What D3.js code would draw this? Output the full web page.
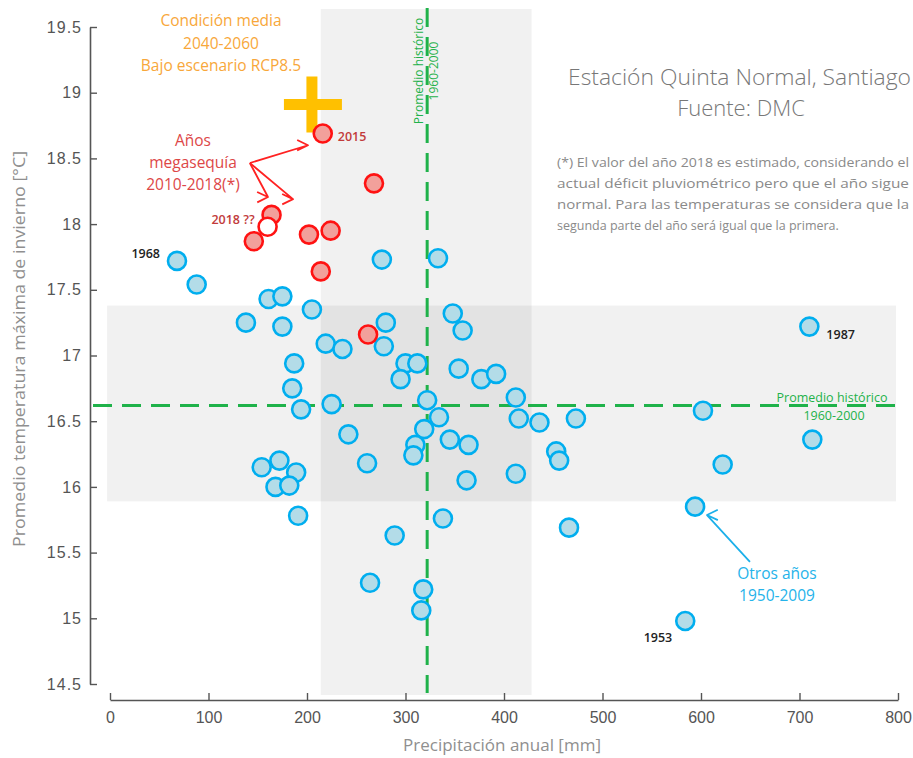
<!DOCTYPE html>
<html>
<head>
<meta charset="utf-8">
<script src="https://cdn.jsdelivr.net/npm/d3@7"></script>
<style>
  body { margin: 0; background: #fff; }
  svg { display: block; }
</style>
</head>
<body>
<div id="chart"></div>
<script>
// otros años 1950-2009: precipitación anual [mm] y temp. máx. invierno [°C]
var rainOther = [68, 88, 161, 175, 205, 138, 175, 276, 333, 280,
                 219, 236, 278, 300, 312, 295, 187, 185, 194, 225,
                 322, 334, 319, 345, 310, 308, 242, 261, 154, 172,
                 189, 168, 182, 191, 338, 348, 358, 354, 377, 392,
                 412, 415, 436, 473, 602, 710, 713, 622, 364, 453,
                 456, 362, 412, 594, 466, 584, 289, 264, 318, 316];
var tempOther = [17.72, 17.54, 17.43, 17.45, 17.35, 17.25, 17.22, 17.73, 17.74, 17.25,
                 17.09, 17.05, 17.07, 16.94, 16.94, 16.82, 16.94, 16.75, 16.59, 16.63,
                 16.66, 16.53, 16.44, 16.36, 16.32, 16.24, 16.40, 16.18, 16.15, 16.20,
                 16.11, 16.00, 16.01, 15.78, 15.76, 17.32, 17.19, 16.90, 16.82, 16.86,
                 16.68, 16.52, 16.49, 16.52, 16.58, 17.22, 16.36, 16.17, 16.32, 16.27,
                 16.20, 16.05, 16.10, 15.85, 15.69, 14.98, 15.63, 15.27, 15.22, 15.06];
var yearOther = {0: "1968", 45: "1987", 55: "1953"};

// megasequía 2010-2018 (el último es 2018, estimado)
var rainDrought = [216, 268, 164, 146, 202, 224, 214, 262, 160];
var tempDrought = [18.69, 18.31, 18.07, 17.87, 17.92, 17.95, 17.64, 17.16, 17.98];
var yearDrought = {0: "2015", 8: "2018 ??"};

// condición media 2040-2060 RCP8.5
var rainFuture = [205];
var tempFuture = [18.91];

// promedio histórico 1960-2000 y su banda
var rainMean = 322, rainBand = [214, 428];
var tempMean = 16.62, tempBand = [15.89, 17.38];

var xTicks = [0, 100, 200, 300, 400, 500, 600, 700, 800];
var yTicks = [14.5, 15, 15.5, 16, 16.5, 17, 17.5, 18, 18.5, 19, 19.5];

var W = 913, H = 758;
var svg = d3.select("#chart").append("svg").attr("width", W).attr("height", H);

var x = d3.scaleLinear().domain([0, 800]).range([110, 898]);
var y = d3.scaleLinear().domain([14.5, 19.5]).range([684, 27]);

var green = "#1fb24a", grey = "#8f8f8f";
var label = "'Open Sans', sans-serif";

//--- bandas grises
svg.append("rect")
  .attr("x", x(rainBand[0])).attr("width", x(rainBand[1]) - x(rainBand[0]))
  .attr("y", 9).attr("height", 695 - 9)
  .attr("fill", "#000").attr("fill-opacity", 0.055);
svg.append("rect")
  .attr("x", x(-3)).attr("width", x(798) - x(-3))
  .attr("y", y(tempBand[1])).attr("height", y(tempBand[0]) - y(tempBand[1]))
  .attr("fill", "#000").attr("fill-opacity", 0.055);

//--- promedio histórico
svg.append("line")
  .attr("x1", x(rainMean)).attr("x2", x(rainMean)).attr("y1", 8).attr("y2", 693)
  .attr("stroke", green).attr("stroke-width", 3).attr("stroke-dasharray", "19,10");
svg.append("line")
  .attr("x1", 93).attr("x2", x(797)).attr("y1", y(tempMean)).attr("y2", y(tempMean))
  .attr("stroke", green).attr("stroke-width", 3).attr("stroke-dasharray", "19,10");

//--- ejes
var yAxis = d3.axisLeft(y).tickValues(yTicks).tickSize(-7).tickSizeOuter(0).tickPadding(8)
  .tickFormat(function(d) { return String(d); });
var gy = svg.append("g").attr("transform", "translate(90,0)").call(yAxis);
var xAxis = d3.axisBottom(x).tickValues(xTicks).tickSize(-7).tickSizeOuter(0).tickPadding(12);
var gx = svg.append("g").attr("transform", "translate(0,700)").call(xAxis);
[gx, gy].forEach(function(g) {
  g.select(".domain").attr("stroke", "#555").attr("stroke-width", 1.6);
  g.selectAll(".tick line").attr("stroke", "#555").attr("stroke-width", 1.4);
  g.selectAll(".tick text").attr("fill", "#555")
    .style("font-family", "'Liberation Sans', Arial, sans-serif").style("font-size", "16px");
});
gy.selectAll(".tick text").style("letter-spacing", "1px");

svg.append("text").attr("transform", "translate(25,349) rotate(-90)")
  .attr("text-anchor", "middle").attr("fill", grey)
  .attr("textLength", 396).attr("lengthAdjust", "spacingAndGlyphs")
  .style("font-family", label).style("font-size", "16.5px")
  .text("Promedio temperatura máxima de invierno [°C]");
svg.append("text").attr("x", 502).attr("y", 751)
  .attr("text-anchor", "middle").attr("fill", grey)
  .style("font-family", label).style("font-size", "17px")
  .text("Precipitación anual [mm]");

//--- etiquetas promedio histórico
var vlab = svg.append("text").attr("transform", "translate(" + (x(rainMean) - 4) + ",71) rotate(-90)")
  .attr("text-anchor", "middle").attr("fill", green)
  .style("font-family", label).style("font-size", "12px");
vlab.append("tspan").attr("x", 0).attr("dy", 0).text("Promedio histórico");
vlab.append("tspan").attr("x", 0).attr("dy", 15).text("1960-2000");
var hlab = svg.append("text").attr("text-anchor", "middle").attr("fill", green)
  .style("font-family", label).style("font-size", "12.5px");
hlab.append("tspan").attr("x", 832).attr("y", y(tempMean) - 3).text("Promedio histórico");
hlab.append("tspan").attr("x", 834).attr("y", y(tempMean) + 15).text("1960-2000");

//--- puntos otros años
var others = rainOther.map(function(r, i) { return {r: r, t: tempOther[i], year: yearOther[i]}; });
svg.append("g").selectAll("circle").data(others).enter().append("circle")
  .attr("cx", function(d) { return x(d.r); })
  .attr("cy", function(d) { return y(d.t); })
  .attr("r", 9)
  .attr("fill", "#b3dce8").attr("stroke", "#00aeef").attr("stroke-width", 2.6);

//--- cruz futura
svg.append("g").selectAll("path").data(rainFuture).enter().append("path")
  .attr("d", function(r, i) {
    var cx = x(r), cy = y(tempFuture[i]);
    return "M" + (cx - 28) + "," + cy + "H" + (cx + 30) + "M" + cx + "," + (cy - 28) + "V" + (cy + 28);
  })
  .attr("stroke", "#ffc000").attr("stroke-width", 11).attr("fill", "none");

//--- puntos megasequía
var drought = rainDrought.map(function(r, i) { return {r: r, t: tempDrought[i], year: yearDrought[i], last: i === rainDrought.length - 1}; });
svg.append("g").selectAll("circle").data(drought).enter().append("circle")
  .attr("cx", function(d) { return x(d.r); })
  .attr("cy", function(d) { return y(d.t); })
  .attr("r", 9)
  .attr("fill", function(d) { return d.last ? "#fff" : "#f2a09b"; })
  .attr("stroke", "#ff1212").attr("stroke-width", 2.6);

//--- etiquetas de años
var yearStyle = function(sel) {
  sel.style("font-family", label).style("font-size", "12.5px").style("font-weight", "600");
};
svg.append("text").attr("x", x(others[0].r) - 17).attr("y", y(others[0].t) - 3)
  .attr("text-anchor", "end").attr("fill", "#222").call(yearStyle).text("1968");
svg.append("text").attr("x", x(others[45].r) + 17).attr("y", y(others[45].t) + 12)
  .attr("fill", "#222").call(yearStyle).text("1987");
svg.append("text").attr("x", x(others[55].r) - 13).attr("y", y(others[55].t) + 21)
  .attr("text-anchor", "end").attr("fill", "#222").call(yearStyle).text("1953");
svg.append("text").attr("x", x(drought[0].r) + 15).attr("y", y(drought[0].t) + 8)
  .attr("fill", "#c23b3b").call(yearStyle).text("2015");
svg.append("text").attr("x", x(drought[8].r) - 13).attr("y", y(drought[8].t) - 3)
  .attr("text-anchor", "end").attr("fill", "#c23b3b").call(yearStyle).text("2018 ??");

//--- textos de anotación
function block(lines, cx, y0, step, color, size) {
  var t = svg.append("text").attr("text-anchor", "middle").attr("fill", color)
    .style("font-family", label).style("font-size", size + "px");
  lines.forEach(function(s, i) { t.append("tspan").attr("x", cx).attr("y", y0 + i * step).text(s); });
  return t;
}
block(["Condición media", "2040-2060", "Bajo escenario RCP8.5"], 221, 26, 22.5, "#f8a73a", 15.5);
block(["Años", "megasequía", "2010-2018(*)"], 193, 146, 22, "#dd4747", 15.5);
block(["Otros años", "1950-2009"], 777, 579, 21.5, "#25b3ea", 15.5);

var title = svg.append("text").attr("fill", "#777")
  .style("font-family", label).style("font-size", "22px").style("font-weight", "300");
title.append("tspan").attr("x", 568).attr("y", 85).attr("textLength", 343).attr("lengthAdjust", "spacingAndGlyphs")
  .text("Estación Quinta Normal, Santiago");
title.append("tspan").attr("x", 741).attr("y", 116).attr("text-anchor", "middle").text("Fuente: DMC");

var note = ["(*) El valor del año 2018 es estimado, considerando el",
            "actual déficit pluviométrico pero que el año sigue",
            "normal. Para las temperaturas se considera que la",
            "segunda parte del año será igual que la primera."];
note.forEach(function(s, i) {
  var t = svg.append("text").attr("x", 557).attr("y", 167 + i * 21).attr("fill", "#8a8a8a")
    .style("font-family", label).style("font-size", "12.5px").text(s);
  if (i < 3) t.attr("textLength", 352).attr("lengthAdjust", "spacingAndGlyphs");
});

//--- flechas
function arrow(x0, y0, x1, y1, color) {
  var a = Math.atan2(y1 - y0, x1 - x0), L = 12, s = 0.45;
  var p = "M" + x(x0) + "," + y(y0) + "L" + x(x1) + "," + y(y1);
  var ex = x(x1), ey = y(y1);
  p += "M" + (ex - L * Math.cos(a - s)) + "," + (ey - L * Math.sin(a - s)) + "L" + ex + "," + ey +
       "L" + (ex - L * Math.cos(a + s)) + "," + (ey - L * Math.sin(a + s));
  svg.append("path").attr("d", p).attr("fill", "none").attr("stroke", color)
    .attr("stroke-width", 1.8).attr("stroke-linejoin", "round");
}
arrow(142, 18.465, 201, 18.60, "#f22");
arrow(142, 18.465, 160.4, 18.206, "#f22");
arrow(142, 18.465, 185.8, 18.19, "#f22");
arrow(649.7, 15.43, 606.1, 15.786, "#1cb0ea");
</script>
</body>
</html>
